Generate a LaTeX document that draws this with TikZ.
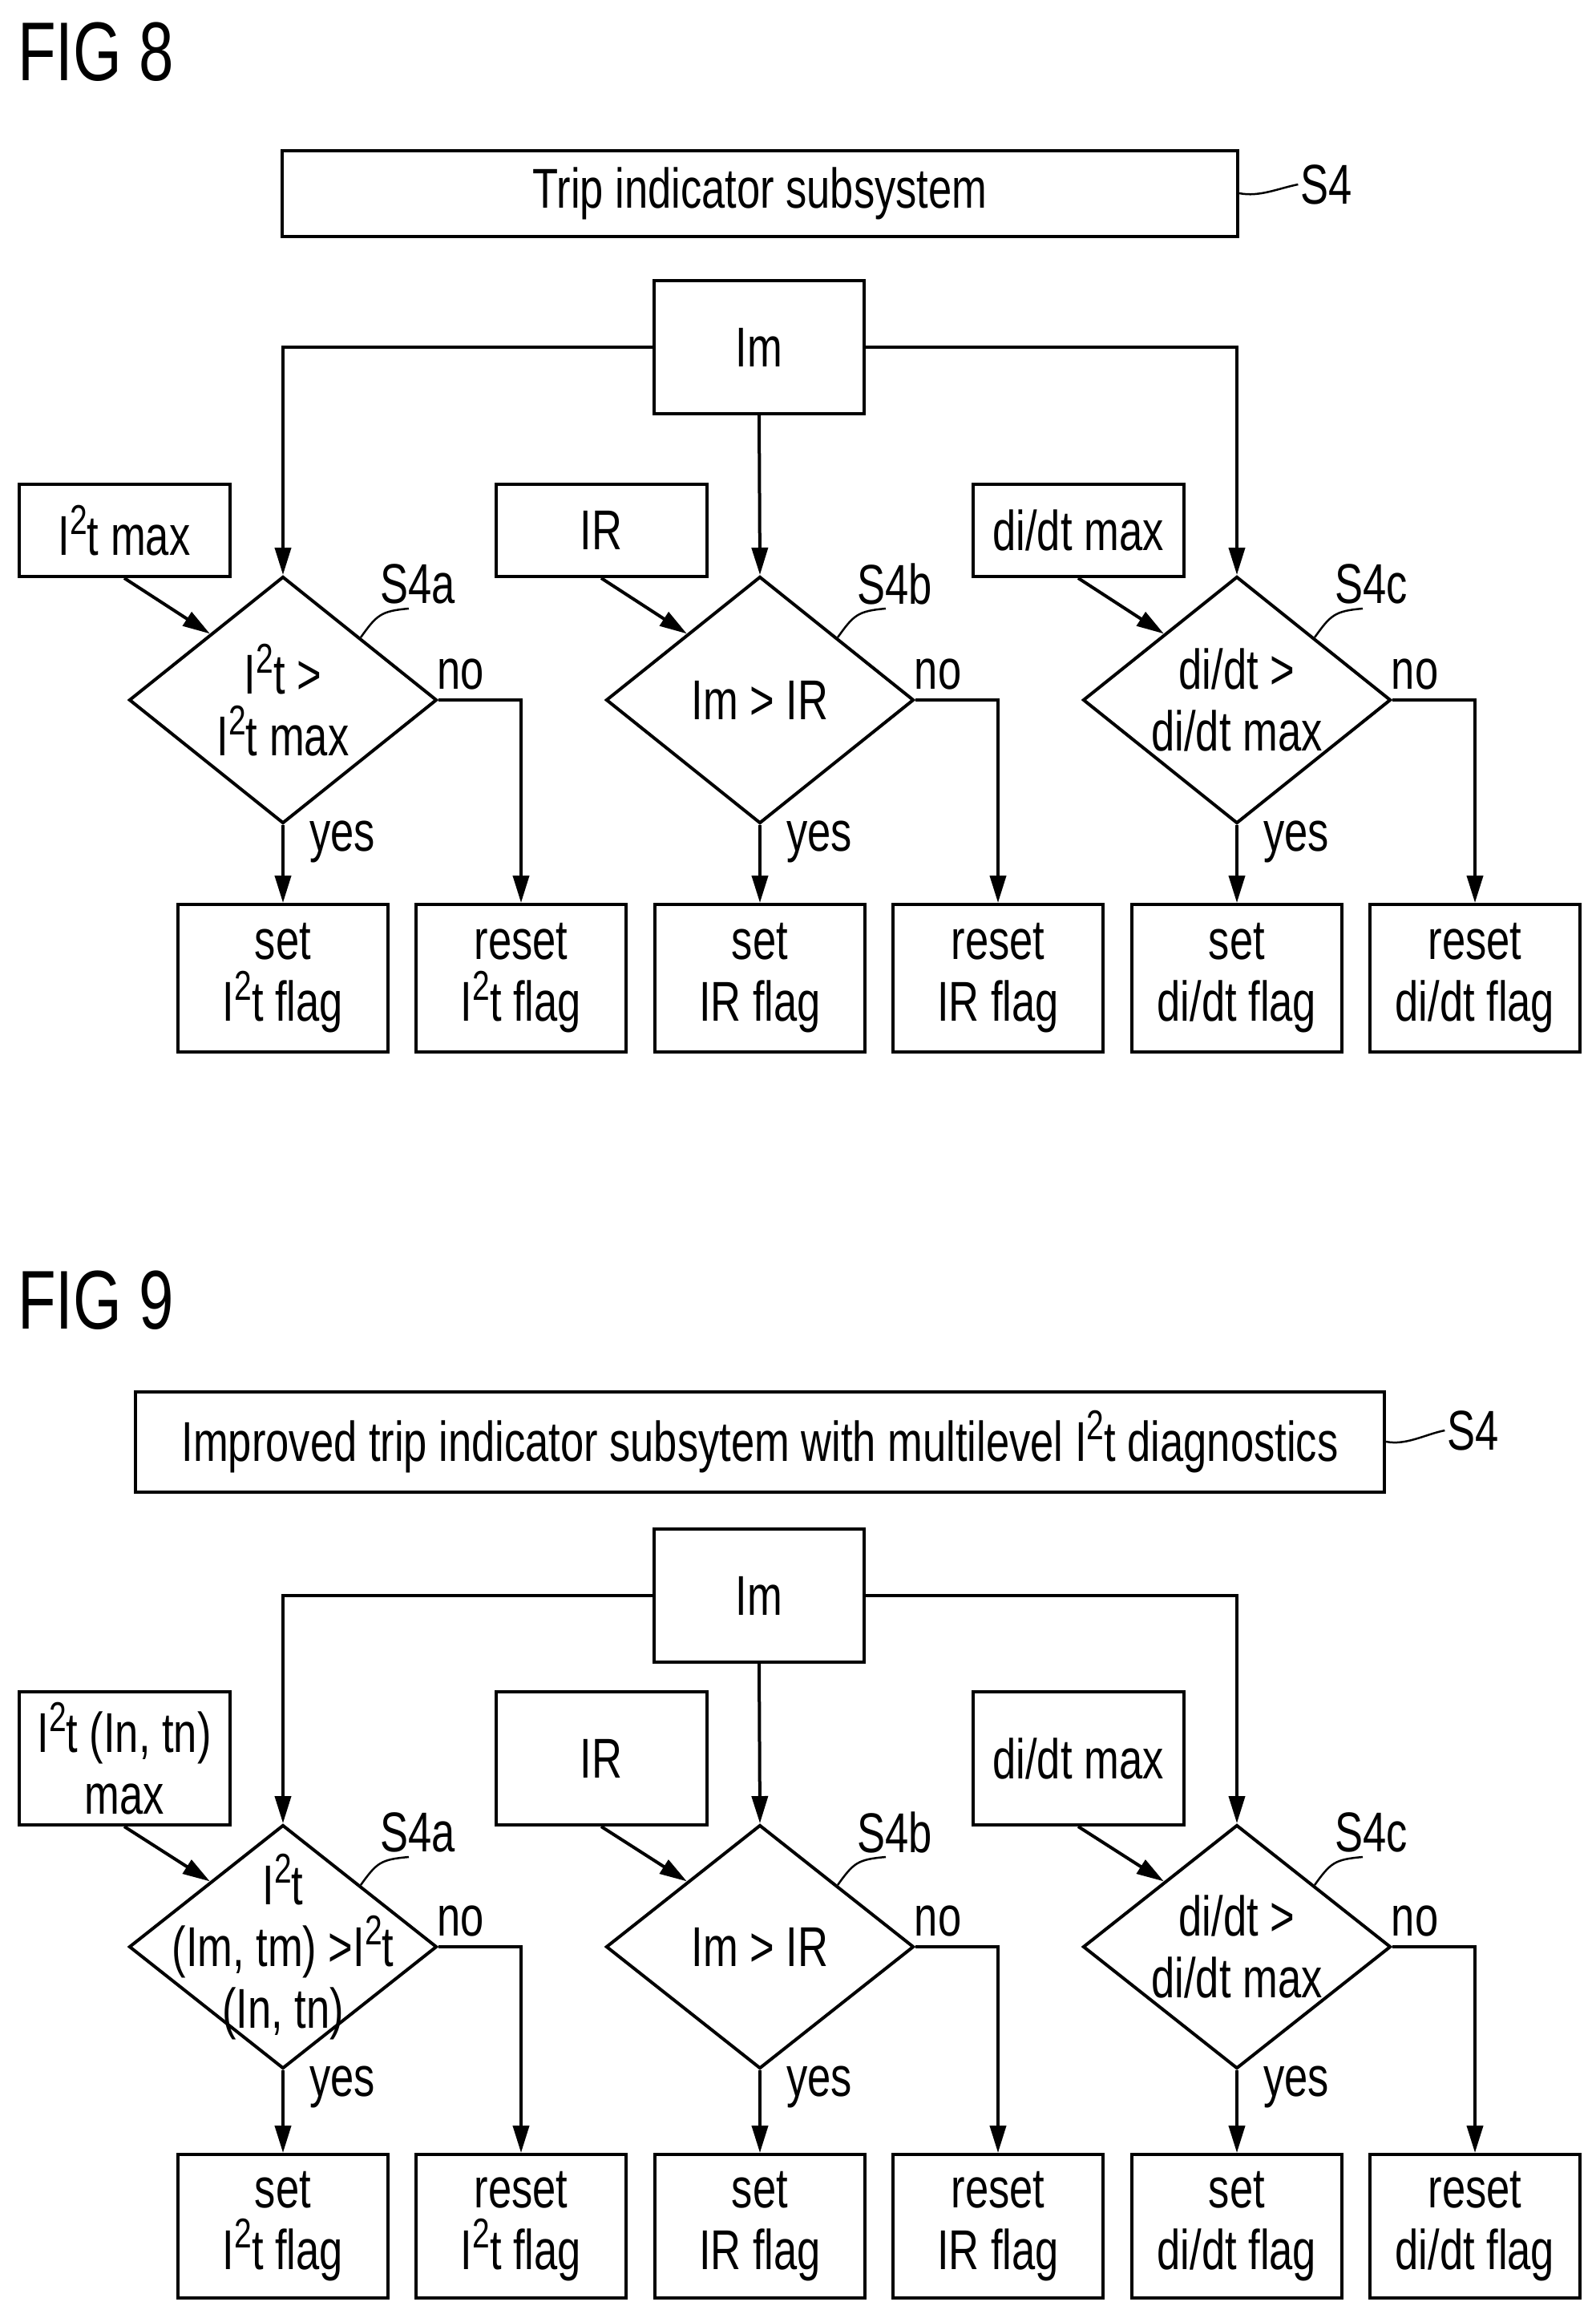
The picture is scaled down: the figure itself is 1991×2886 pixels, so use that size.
\documentclass[tikz,border=0pt]{standalone}
\usepackage{fontspec}
\setmainfont[FakeStretch=0.75]{Liberation Sans}
\usetikzlibrary{shapes.geometric,arrows.meta,calc}
\newcommand\tf{\fontsize{70}{77}\selectfont}
\newcommand\sq{\raisebox{0.38em}{\fontsize{52}{52}\selectfont 2}}
\newcommand\blk[7]{%
\pgfmathsetmacro\ih{\dT-\inT}\pgfmathsetmacro\icy{(\dT+\inT)/2}%
\pgfmathsetmacro\dcy{(\dT+\dB)/2}\pgfmathsetmacro\dh{\dB-\dT}%
\pgfmathsetmacro\bcy{(\bT+\bB)/2}\pgfmathsetmacro\bh{\bB-\bT}%
\node[box,minimum width=263pt,minimum height=\ih pt] (#1in) at (#2-198,\icy) {#3};
\node[dia,minimum height=\dh pt] (#1d) at (#2,\dcy) {};
\node[font=\tf,align=center,inner sep=0pt] (#1dt) at (#1d.center) {#4};
\node[box,minimum width=262pt,minimum height=\bh pt] (#1s) at (#2,\bcy) {#5};
\node[box,minimum width=262pt,minimum height=\bh pt] (#1r) at (#2+297,\bcy) {#6};
\draw[arr] (#1in.south) -- ($(#1d.north)!0.47!(#1d.west)$);
\draw[arr] (#1d.south) -- (#1s.north);
\draw[arr] (#1d.east) -| (#1r.north);
\node[font=\tf] (#1y) at (#2+74,\dB+23) {yes};
\node[font=\tf] (#1n) at (#2+222,\dcy-32) {no};
\node[font=\tf] (#1S) at (#2+168,\dT+9) {#7};
\draw[line width=2.5pt] ($(#1d.north)!0.5!(#1d.east)$) .. controls +(20,-28) and +(-35,3) .. (#2+157,\dT+40);
}
\begin{document}
\begin{tikzpicture}[x=1pt,y=-1pt,
 box/.style={draw,line width=4pt,inner sep=0pt,align=center,font=\tf},
 dia/.style={draw,line width=4pt,diamond,inner sep=0pt,minimum width=384pt},
 arr/.style={line width=4pt,-{Triangle[length=34pt,width=20pt]}}]
\useasboundingbox (0,0) rectangle (1991,2886);
% FIG 8
\node[anchor=north west,inner sep=0pt,font=\fontsize{104}{110}\selectfont] (f8) at (22,28) {FIG 8};
\node[box,minimum width=1192pt,minimum height=107pt] (t8) at (948,241) {Trip indicator subsystem};
\node[font=\tf] (s8) at (1655,230) {S4};
\draw[line width=2.5pt] (t8.east) .. controls +(25,5) and +(-25,5) .. (s8.west);
\node[box,minimum width=262pt,minimum height=166pt] (im8) at (947,433) {Im};
\def\inT{604}\def\dT{719}\def\dB{1027}\def\bT{1128}\def\bB{1312}
\blk{a}{353}{I\sq t max}{I\sq t >\\I\sq t max}{set\\I\sq t flag}{reset\\I\sq t flag}{S4a}
\blk{b}{948}{IR}{Im > IR}{set\\IR flag}{reset\\IR flag}{S4b}
\blk{c}{1543}{di/dt max}{di/dt >\\di/dt max}{set\\di/dt flag}{reset\\di/dt flag}{S4c}
\draw[arr] (im8.west) -| (ad.north);
\draw[arr] (im8.south) -- (bd.north);
\draw[arr] (im8.east) -| (cd.north);
% FIG 9
\node[anchor=north west,inner sep=0pt,font=\fontsize{104}{110}\selectfont] (f9) at (22,1585) {FIG 9};
\node[box,minimum width=1558pt,minimum height=125pt] (t9) at (948,1798) {Improved trip indicator subsytem with multilevel I\sq t diagnostics};
\node[font=\tf] (s9) at (1838,1784) {S4};
\draw[line width=2.5pt] (t9.east) .. controls +(25,5) and +(-25,5) .. (s9.west);
\node[box,minimum width=262pt,minimum height=166pt] (im9) at (947,1990) {Im};
\def\inT{2110}\def\dT{2276}\def\dB{2580}\def\bT{2687}\def\bB{2866}
\blk{p}{353}{I\sq t (In, tn)\\max}{I\sq t\\(Im, tm) >I\sq t\\(In, tn)}{set\\I\sq t flag}{reset\\I\sq t flag}{S4a}
\blk{q}{948}{IR}{Im > IR}{set\\IR flag}{reset\\IR flag}{S4b}
\blk{r}{1543}{di/dt max}{di/dt >\\di/dt max}{set\\di/dt flag}{reset\\di/dt flag}{S4c}
\draw[arr] (im9.west) -| (pd.north);
\draw[arr] (im9.south) -- (qd.north);
\draw[arr] (im9.east) -| (rd.north);
\end{tikzpicture}
\end{document}
